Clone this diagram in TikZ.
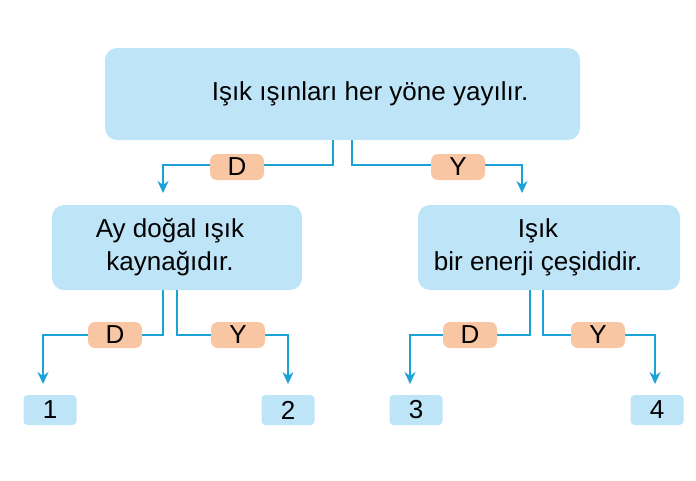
\documentclass[tikz,border=0pt]{standalone}
\usepackage{fontspec}
\setmainfont{Liberation Sans}
\usetikzlibrary{positioning,arrows.meta}
\definecolor{boxblue}{HTML}{BEE4F7}
\definecolor{tagorange}{HTML}{F9C6A3}
\definecolor{linecyan}{HTML}{1BA3D8}
\begin{document}
\begin{tikzpicture}
[x=1pt,y=-1pt,
 every node/.style={font=\fontsize{26}{33}\selectfont,align=center,inner sep=0pt},
 stmt/.style={rectangle,rounded corners=12pt,fill=boxblue},
 leaf/.style={rectangle,rounded corners=4pt,fill=boxblue,minimum width=53pt,minimum height=30pt},
 tag/.style={rectangle,rounded corners=7pt,fill=tagorange,minimum width=54pt,minimum height=26pt},
 conn/.style={draw=linecyan,line width=1.8pt},
 arr/.style={conn,-{Stealth[length=12pt,width=11pt]}}]
\useasboundingbox (0,0) rectangle (696,480);
% statements
\node[stmt,minimum width=475pt,minimum height=92pt] (top) at (342.5,94) {\hspace{55pt}Işık ışınları her yöne yayılır.};
\node[stmt,minimum width=250pt,minimum height=85pt] (moon) at (177,247.5) {};
\node (moontxt) at (170,247.5) {Ay doğal ışık\\kaynağıdır.};
\node[stmt,minimum width=262pt,minimum height=85pt] (energy) at (549,247.5) {};
\node (energytxt) at (538,247.5) {Işık\\bir enerji çeşididir.};
% leaves
\node[leaf] (l1) at (50,410) {1};
\node[leaf] (l2) at (288,410) {2};
\node[leaf] (l3) at (416,410) {3};
\node[leaf] (l4) at (657,410) {4};
% corner points
\coordinate (tL) at (333,140);  \coordinate (tR) at (352,140);
\coordinate (mL) at (163,290);  \coordinate (mR) at (177,290);
\coordinate (eL) at (530,290);  \coordinate (eR) at (543,290);
% connectors
\draw[arr] (tL) |- (163,165) -- (163,193);
\draw[arr] (tR) |- (522,165) -- (522,193);
\draw[arr] (mL) |- (43,335) -- (43,384);
\draw[arr] (mR) |- (288,335) -- (288,384);
\draw[arr] (eL) |- (410,335) -- (410,384);
\draw[arr] (eR) |- (655,335) -- (655,384);
% answer tags
\node[tag] (d0) at (237,167) {D};
\node[tag] (y0) at (458,167) {Y};
\node[tag] (d1) at (115,335) {D};
\node[tag] (y1) at (238,335) {Y};
\node[tag] (d2) at (470,335) {D};
\node[tag] (y2) at (598,335) {Y};
\end{tikzpicture}
\end{document}
